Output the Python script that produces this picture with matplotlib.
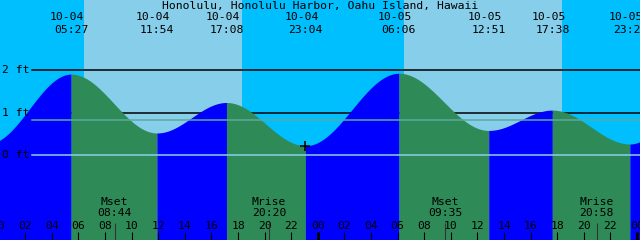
import matplotlib
matplotlib.use("Agg")
import matplotlib.pyplot as plt
import numpy as np

## Données (heures depuis 10-04 00:00, hauteurs en ft)

# extrêmes de marée (le premier et le dernier sont hors cadre, estimés)
tide_times = [-0.8, 5.45, 11.9, 17.133, 23.067, 30.1, 36.85, 41.633, 47.467, 53.9]
tide_heights = [0.27, 1.91, 0.52, 1.24, 0.22, 1.93, 0.58, 1.06, 0.26, 1.9]
tide_dates = ["10-04", "10-04", "10-04", "10-04", "10-05", "10-05", "10-05", "10-05"]
tide_labels = ["05:27", "11:54", "17:08", "23:04", "06:06", "12:51", "17:38", "23:28"]

# lever / coucher du soleil
sunrise = [6.42, 30.45]
sunset = [18.3, 42.33]

# lune
moon_times = [8.733, 20.333, 33.583, 44.967]
moon_events = ["Mset", "Mrise", "Mset", "Mrise"]
moon_labels = ["08:44", "20:20", "09:35", "20:58"]

# lignes horizontales
grid_levels = [1, 2]
datum_level = 0
msl_level = 0.82
level_labels = ["0 ft", "1 ft", "2 ft"]

hour_ticks = list(range(0, 50, 2))
hour_labels = ["%02d" % (h % 24) for h in hour_ticks]

now_time = 23.067
title = "Honolulu, Honolulu Harbor, Oahu Island, Hawaii"

## Couleurs
night_col = "#00BFFF"
day_col = "#87CEEB"
flood_col = "#0000FF"
ebb_col = "#2E8B57"
msl_col = "#5BAA9E"
datum_col = "#8ECFEA"

W, H = 640, 240
px_per_h = 13.3
x0 = -1.4  # pixel de 00:00
t_min = -x0 / px_per_h
t_max = (W - x0) / px_per_h
y_min = -(H - 155) / 42.35
y_max = 155 / 42.35


def yfrac(ypix):
    # position verticale en pixels (depuis le haut) -> fraction des axes
    return 1 - ypix / H


def tide_curve(t):
    # interpolation cosinus entre extrêmes successifs
    h = np.zeros_like(t)
    for i in range(len(tide_times) - 1):
        ta, tb = tide_times[i], tide_times[i + 1]
        ha, hb = tide_heights[i], tide_heights[i + 1]
        m = (t >= ta) & (t <= tb)
        f = (1 - np.cos(np.pi * (t[m] - ta) / (tb - ta))) / 2
        h[m] = ha + (hb - ha) * f
    return h


fig = plt.figure(figsize=(W / 100, H / 100), dpi=100)
ax = fig.add_axes([0, 0, 1, 1])
ax.set_xlim(t_min, t_max)
ax.set_ylim(y_min, y_max)
ax.axis("off")

# ciel : nuit / jour
ax.axvspan(t_min - 1, t_max + 1, color=night_col, zorder=0, lw=0)
for sr, ss in zip(sunrise, sunset):
    ax.axvspan(sr, ss, color=day_col, zorder=0.5, lw=0)

# lignes de grille (derrière l'eau)
for lev in grid_levels:
    ax.axhline(lev, xmin=32 / W, xmax=1, color="black", lw=1.1, zorder=1)

# eau : montante en bleu, descendante en vert
for i in range(len(tide_times) - 1):
    ta, tb = tide_times[i], tide_times[i + 1]
    t = np.linspace(ta, tb, 200)
    h = tide_curve(t)
    col = flood_col if tide_heights[i + 1] > tide_heights[i] else ebb_col
    ax.fill_between(t, y_min - 1, h, color=col, lw=0, zorder=2, antialiased=False)

# zéro des cartes et niveau moyen
ax.axhline(datum_level, xmin=32 / W, xmax=1, color=datum_col, lw=1.1, zorder=3)
ax.axhline(msl_level, xmin=32 / W, xmax=1, color=msl_col, lw=1.1, zorder=3)

font = dict(family="DejaVu Sans Mono", fontsize=8.2, color="black")

for lab, lev in zip(level_labels, [0, 1, 2]):
    ax.text(2 / px_per_h + t_min, lev, lab, ha="left", va="center", zorder=4, **font)

# marqueur "maintenant"
ax.plot([now_time], tide_curve(np.array([now_time])), marker="+", color="black",
        markersize=7, mew=1.1, zorder=4)

# titre et étiquettes des marées
trans = ax.get_xaxis_transform()
ax.text((t_min + t_max) / 2, yfrac(6), title, ha="center", va="center",
        transform=trans, **font)
for t, d, lab in zip(tide_times[1:-1], tide_dates, tide_labels):
    ax.text(t - 4 / px_per_h, yfrac(17), d, ha="center", va="center", transform=trans, **font)
    ax.text(t, yfrac(30), lab, ha="center", va="center", transform=trans, **font)

# graduations des heures
for h, lab in zip(hour_ticks, hour_labels):
    lw = 2.2 if h % 24 == 0 else 0.8
    ax.plot([h, h], [yfrac(240), yfrac(232)], color="black", lw=lw,
            transform=trans, zorder=5, solid_capstyle="butt")
    ax.text(h, yfrac(226), lab, ha="center", va="center", transform=trans, zorder=5, **font)

# lune
for t, ev, lab in zip(moon_times, moon_events, moon_labels):
    ax.plot([t, t], [yfrac(240), yfrac(223)], color="#333333", lw=0.8,
            transform=trans, zorder=5, solid_capstyle="butt")
    ax.text(t, yfrac(202), ev, ha="center", va="center", transform=trans, zorder=5, **font)
    ax.text(t, yfrac(213), lab, ha="center", va="center", transform=trans, zorder=5, **font)

fig.savefig("out.png", dpi=100)
